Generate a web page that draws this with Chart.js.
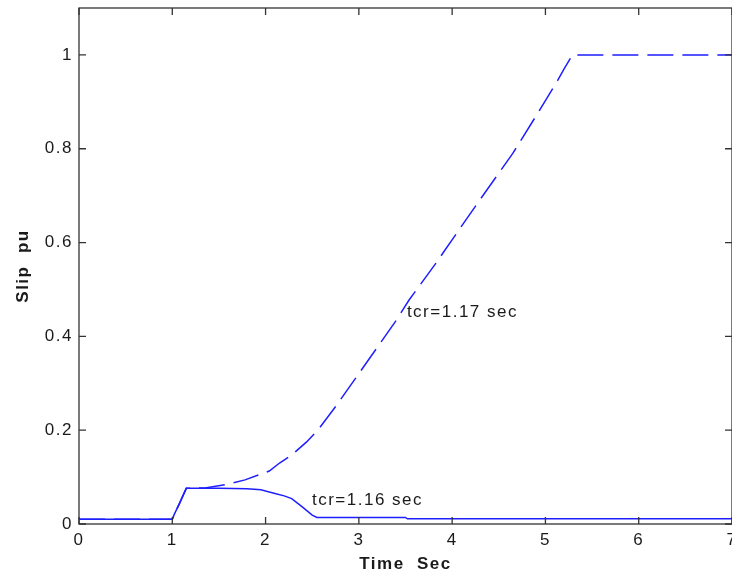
<!DOCTYPE html>
<html>
<head>
<meta charset="utf-8">
<script src="https://cdn.jsdelivr.net/npm/chart.js@4/dist/chart.umd.min.js"></script>
<style>
  html, body { margin: 0; padding: 0; background: #fff; }
  canvas { display: block; }
</style>
</head>
<body>
<canvas id="slip-graph" width="732" height="580"></canvas>
<script>
// slip after fault clearing, clearing time 1.16 s (stable)
var solidTime = [0, 1.0, 1.02, 1.08, 1.15, 1.5, 1.8, 1.95, 2.1, 2.2, 2.28, 2.39, 2.5, 2.55, 3.5, 3.52, 7];
var solidSlip = [0.01, 0.01, 0.02, 0.045, 0.076, 0.076, 0.075, 0.073, 0.065, 0.06, 0.054, 0.037, 0.019, 0.014, 0.014, 0.011, 0.011];

// slip after fault clearing, clearing time 1.17 s (runs away)
var dashTime = [0, 1.0, 1.02, 1.08, 1.15, 1.35, 1.6, 1.78, 2.04, 2.15, 2.28, 2.44, 2.56, 2.76, 3.04, 3.4, 3.54, 3.83, 3.92, 4.29, 4.65, 4.9, 5.13, 5.2, 5.29, 7];
var dashSlip = [0.01, 0.01, 0.02, 0.045, 0.076, 0.077, 0.085, 0.094, 0.113, 0.13, 0.147, 0.175, 0.2, 0.253, 0.332, 0.434, 0.478, 0.557, 0.583, 0.689, 0.79, 0.87, 0.945, 0.97, 1.0, 1.0];

var xTicks = [0, 1, 2, 3, 4, 5, 6, 7];
var yTicks = [0, 0.2, 0.4, 0.6, 0.8, 1];

var noteText = ["tcr=1.17 sec", "tcr=1.16 sec"];
var noteTime = [3.515, 2.497];
var noteSlip = [0.451, 0.051];

function pairs(xs, ys) {
  return xs.map(function (x, i) { return { x: x, y: ys[i] }; });
}

var ink = "#1a1a1a";
var blue = "rgb(30,30,255)";
var spacing = "1.5px";

// matlab style box: frame, inward ticks on all four sides, text notes
var boxPlugin = {
  id: "box",
  beforeUpdate: function (chart) { chart.ctx.letterSpacing = spacing; },
  beforeDraw: function (chart) { chart.ctx.letterSpacing = spacing; },
  afterDraw: function (chart) {
    var ctx = chart.ctx;
    var a = chart.chartArea;
    var xs = chart.scales.x, ys = chart.scales.y;
    var len = 7;
    ctx.save();
    ctx.strokeStyle = "#333";
    ctx.lineWidth = 1.3;
    ctx.strokeRect(a.left, a.top, a.right - a.left, a.bottom - a.top);
    ctx.beginPath();
    xTicks.forEach(function (v) {
      var px = xs.getPixelForValue(v);
      ctx.moveTo(px, a.bottom); ctx.lineTo(px, a.bottom - len);
      ctx.moveTo(px, a.top); ctx.lineTo(px, a.top + len);
    });
    yTicks.forEach(function (v) {
      var py = ys.getPixelForValue(v);
      ctx.moveTo(a.left, py); ctx.lineTo(a.left + len, py);
      ctx.moveTo(a.right, py); ctx.lineTo(a.right - len, py);
    });
    ctx.stroke();

    ctx.fillStyle = ink;
    ctx.font = "17px 'Liberation Sans', Arial, sans-serif";
    ctx.letterSpacing = spacing;
    ctx.textAlign = "left";
    ctx.textBaseline = "middle";
    noteText.forEach(function (t, i) {
      ctx.fillText(t, xs.getPixelForValue(noteTime[i]), ys.getPixelForValue(noteSlip[i]));
    });
    ctx.restore();
  }
};

var tickFont = { family: "'Liberation Sans', Arial, sans-serif", size: 17 };
var titleFont = { family: "'Liberation Sans', Arial, sans-serif", size: 17, weight: "bold" };

var chart = new Chart(document.getElementById("slip-graph").getContext("2d"), {
  type: "line",
  data: {
    datasets: [{
      label: "tcr=1.17 sec",
      data: pairs(dashTime, dashSlip),
      borderColor: blue,
      borderWidth: 1.5,
      borderDash: [26, 9],
      pointRadius: 0,
      tension: 0,
      fill: false
    }, {
      label: "tcr=1.16 sec",
      data: pairs(solidTime, solidSlip),
      borderColor: blue,
      borderWidth: 1.5,
      pointRadius: 0,
      tension: 0,
      fill: false
    }]
  },
  options: {
    responsive: false,
    animation: false,
    layout: { padding: { top: 8, right: 0, left: 0, bottom: 0 } },
    plugins: {
      legend: { display: false },
      tooltip: { enabled: false }
    },
    scales: {
      x: {
        type: "linear",
        min: 0,
        max: 7,
        afterBuildTicks: function (s) { s.ticks = xTicks.map(function (v) { return { value: v }; }); },
        afterFit: function (s) { s.height = 56; s.paddingLeft = 0; s.paddingRight = 0; },
        grid: { display: false, drawTicks: false },
        border: { display: false },
        ticks: { color: ink, font: tickFont, padding: 6, maxRotation: 0, callback: function (v) { return String(v); } },
        title: { display: true, text: "Time  Sec", color: ink, font: titleFont, padding: { top: 0, bottom: 5 } }
      },
      y: {
        type: "linear",
        min: 0,
        max: 1.1,
        afterBuildTicks: function (s) { s.ticks = yTicks.map(function (v) { return { value: v }; }); },
        afterFit: function (s) { s.width = 79; s.paddingTop = 0; s.paddingBottom = 0; },
        grid: { display: false, drawTicks: false },
        border: { display: false },
        ticks: { color: ink, font: tickFont, padding: 6, callback: function (v) { return String(v); } },
        title: { display: true, text: "Slip  pu", color: ink, font: titleFont, padding: { top: 13, bottom: 0 } }
      }
    }
  },
  plugins: [boxPlugin]
});
</script>
</body>
</html>
